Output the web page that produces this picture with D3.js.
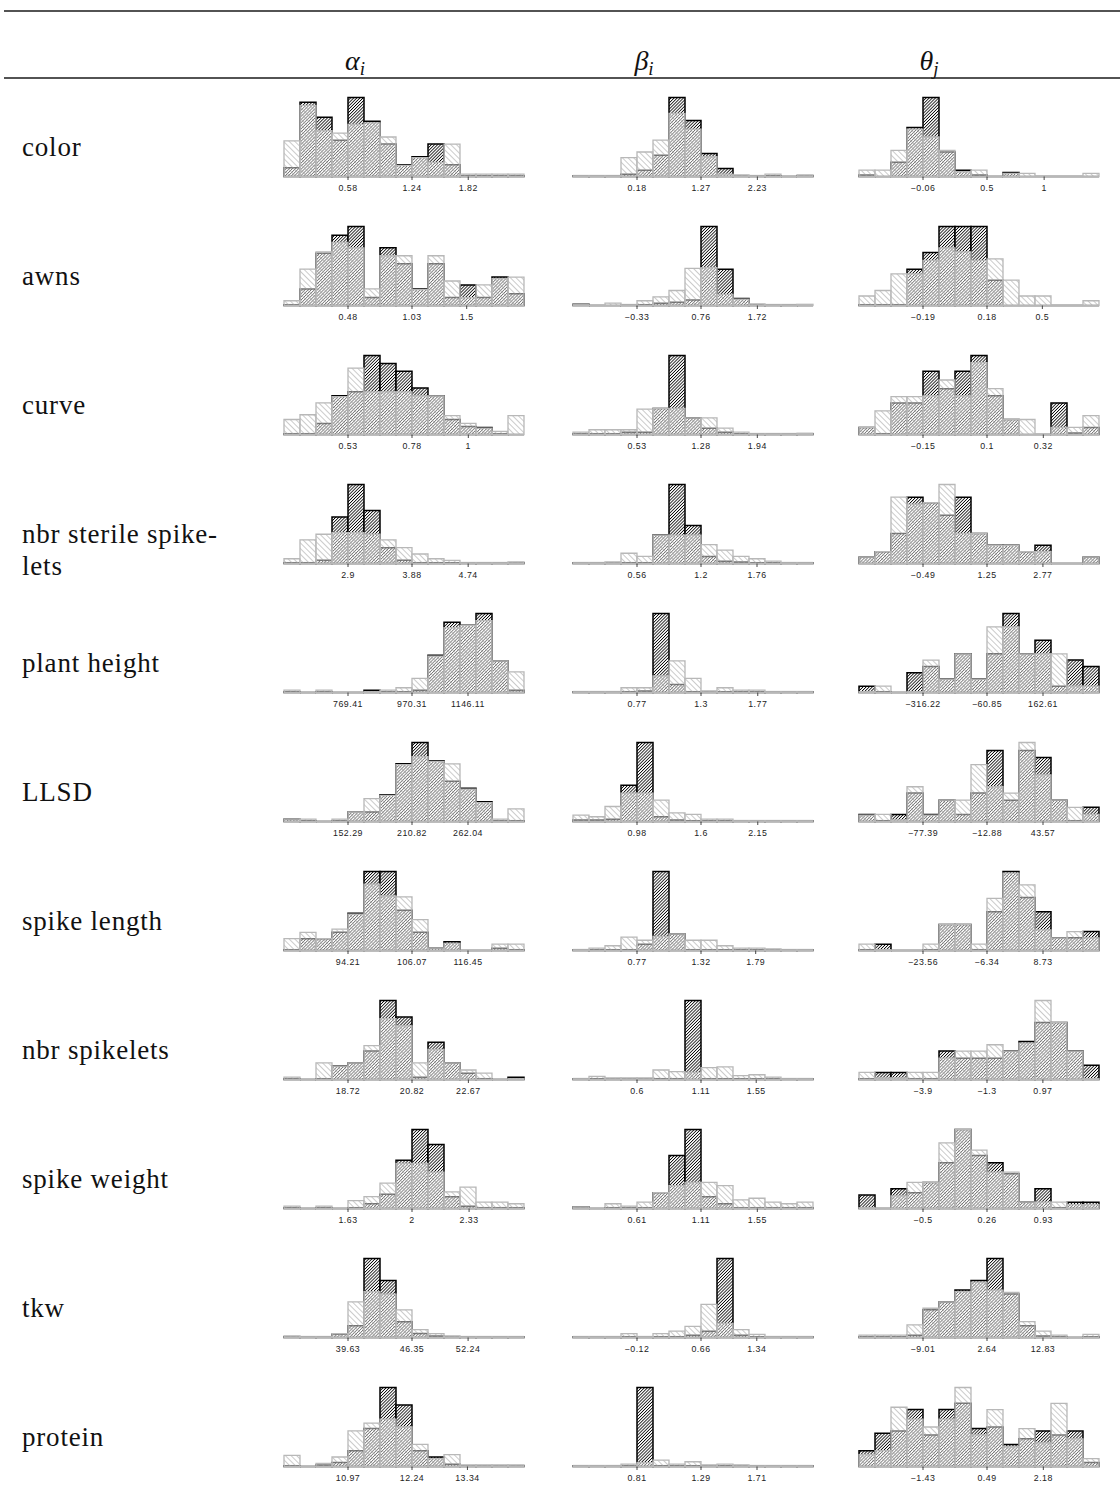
<!DOCTYPE html>
<html>
<head>
<meta charset="utf-8">
<script src="https://cdn.jsdelivr.net/npm/d3@7"></script>
<style>
  html, body { margin: 0; padding: 0; background: #fff; }
  svg { display: block; }
</style>
</head>
<body>
<svg id="chart" width="1120" height="1493"></svg>
<script>
// Row labels of the table
const traits = ["color", "awns", "curve", "nbr sterile spikelets", "plant height", "LLSD",
  "spike length", "nbr spikelets", "spike weight", "tkw", "protein"];

// Column headers: parameter symbol and its index
const paramSymbols = ["α", "β", "θ"];
const paramIndex = ["i", "i", "j"];

// Tick labels per row: [alpha ticks, beta ticks, theta ticks]
const ticksColor = [[0.58, 1.24, 1.82], [0.18, 1.27, 2.23], [-0.06, 0.5, 1]];
const ticksAwns = [[0.48, 1.03, 1.5], [-0.33, 0.76, 1.72], [-0.19, 0.18, 0.5]];
const ticksCurve = [[0.53, 0.78, 1], [0.53, 1.28, 1.94], [-0.15, 0.1, 0.32]];
const ticksSterile = [[2.9, 3.88, 4.74], [0.56, 1.2, 1.76], [-0.49, 1.25, 2.77]];
const ticksHeight = [[769.41, 970.31, 1146.11], [0.77, 1.3, 1.77], [-316.22, -60.85, 162.61]];
const ticksLLSD = [[152.29, 210.82, 262.04], [0.98, 1.6, 2.15], [-77.39, -12.88, 43.57]];
const ticksSpikeLen = [[94.21, 106.07, 116.45], [0.77, 1.32, 1.79], [-23.56, -6.34, 8.73]];
const ticksSpikelets = [[18.72, 20.82, 22.67], [0.6, 1.11, 1.55], [-3.9, -1.3, 0.97]];
const ticksSpikeW = [[1.63, 2, 2.33], [0.61, 1.11, 1.55], [-0.5, 0.26, 0.93]];
const ticksTkw = [[39.63, 46.35, 52.24], [-0.12, 0.66, 1.34], [-9.01, 2.64, 12.83]];
const ticksProtein = [[10.97, 12.24, 13.34], [0.81, 1.29, 1.71], [-1.43, 0.49, 2.18]];

// Bin frequencies (15 bins per histogram), light series and dark series, per column
const colorLight = [[45, 90, 58, 55, 66, 68, 50, 14, 24, 18, 41, 3, 3, 3, 3],
  [1, 1, 1, 24, 31, 46, 80, 60, 25, 3, 2, 1, 3, 0, 2],
  [8, 8, 33, 60, 50, 33, 6, 8, 0, 4, 4, 0, 0, 0, 4]];
const colorDark = [[11, 94, 75, 46, 100, 70, 41, 15, 25, 41, 15, 1, 1, 1, 1],
  [1, 1, 1, 3, 8, 27, 100, 71, 29, 10, 1, 1, 1, 0, 1],
  [2, 0, 18, 62, 100, 31, 8, 2, 0, 5, 0, 0, 0, 0, 0]];

const awnsLight = [[6, 46, 68, 80, 73, 21, 63, 63, 20, 63, 31, 10, 26, 34, 36],
  [1, 0, 3, 1, 6, 11, 19, 47, 48, 14, 8, 2, 1, 1, 1.5],
  [12, 19, 40, 40, 57, 73, 68, 57, 59, 32, 12, 12, 0, 0, 6]];
const awnsDark = [[1, 21, 66, 89, 100, 10, 73, 53, 21, 53, 10, 26, 10, 36, 15],
  [1.5, 0, 0, 1, 1, 3, 4, 7, 100, 46, 9, 1, 1, 1, 0],
  [1, 1, 1, 46, 67, 100, 100, 100, 32, 0, 0, 0, 0, 0, 0]];

const curveLight = [[19, 25, 40, 48, 84, 54, 54, 54, 49, 49, 24, 14, 8, 4, 24],
  [3, 6, 6, 6, 32, 33, 33, 21, 21, 8, 3, 1, 1, 1, 1.5],
  [9, 30, 48, 48, 49, 69, 49, 91, 58, 19, 19, 0, 9, 9, 24]];
const curveDark = [[1, 1, 14, 49, 54, 100, 90, 80, 59, 49, 19, 10, 9, 1, 0],
  [1, 1, 1, 3, 3, 33, 100, 21, 8, 3, 1, 1, 1, 1, 1],
  [9, 1, 40, 40, 80, 58, 80, 100, 49, 19, 0, 0, 40, 2, 9]];

const sterileLight = [[6, 30, 37, 39, 39, 37, 30, 20, 12, 6, 4, 1, 1, 1, 2],
  [1, 1, 2, 13, 9, 36, 36, 36, 24, 17, 9, 6, 3, 1, 1],
  [8, 15, 84, 75, 77, 100, 38, 38, 23, 23, 15, 15, 0, 0, 8]];
const sterileDark = [[1, 1, 4, 59, 100, 67, 20, 4, 1, 1, 1, 1, 1, 1, 1],
  [1, 1, 1, 1, 1, 36, 100, 48, 9, 3, 2, 1, 1, 1, 1],
  [8, 15, 38, 84, 77, 61, 84, 38, 23, 23, 15, 23, 0, 0, 8]];

const heightLight = [[3, 0, 3, 0, 0, 1, 3, 6, 18, 46, 82, 85, 91, 40, 26],
  [1, 1, 1, 6, 6, 21, 40, 18, 2, 6, 3, 3, 1, 1, 1],
  [1, 8, 0, 1, 41, 17, 49, 17, 83, 83, 49, 49, 49, 8, 8]];
const heightDark = [[1, 0, 1, 0, 0, 3, 1, 1, 3, 47, 89, 85, 100, 40, 3],
  [1, 1, 1, 1, 2, 100, 10, 1, 1, 1, 1, 1, 1, 1, 1],
  [8, 1, 0, 25, 33, 17, 49, 17, 49, 100, 49, 66, 8, 41, 33]];

const llsdLight = [[3, 3, 0, 3, 12, 29, 33, 72, 82, 76, 73, 41, 24, 3, 16],
  [8, 6, 19, 36, 36, 27, 11, 9, 3, 3, 1, 1, 1, 1, 1],
  [8, 9, 2, 44, 8, 27, 27, 72, 44, 36, 100, 59, 27, 18, 9]];
const llsdDark = [[3, 1, 0, 1, 12, 12, 34, 73, 100, 77, 51, 42, 25, 1, 1],
  [2, 2, 3, 46, 100, 6, 2, 1, 1, 1, 1, 1, 1, 1, 1],
  [9, 1, 9, 36, 9, 27, 9, 36, 90, 27, 90, 81, 27, 1, 18]];

const spikeLenLight = [[15, 23, 15, 27, 46, 84, 69, 68, 39, 3, 9, 0, 0, 8, 8],
  [1, 3, 6, 17, 13, 18, 21, 13, 13, 6, 3, 3, 2, 1, 1],
  [8, 1, 0, 0, 8, 33, 33, 8, 66, 98, 83, 26, 16, 24, 16]];
const spikeLenDark = [[1, 15, 15, 23, 47, 100, 100, 51, 23, 3, 11, 0, 0, 3, 1],
  [1, 1, 1, 1, 8, 100, 21, 1, 1, 1, 1, 1, 1, 1, 1],
  [1, 8, 0, 0, 1, 33, 33, 1, 49, 100, 67, 49, 16, 16, 24]];

const spikeletsLight = [[3, 0, 21, 17, 21, 43, 77, 68, 21, 38, 21, 12, 8, 0, 1],
  [1, 4, 2, 2, 2, 12, 10, 9, 15, 16, 5, 6, 3, 1, 1],
  [9, 2, 2, 9, 9, 27, 36, 36, 44, 36, 46, 100, 72, 36, 1]];
const spikeletsDark = [[1, 0, 1, 17, 21, 36, 100, 79, 3, 47, 21, 8, 1, 0, 3],
  [1, 1, 1, 1, 1, 1, 1, 100, 1, 1, 1, 1, 1, 1, 1],
  [1, 9, 9, 1, 1, 36, 27, 27, 27, 36, 48, 72, 72, 36, 18]];

const spikeWLight = [[3, 0, 3, 0, 10, 15, 32, 57, 57, 46, 21, 27, 8, 8, 6],
  [2, 0, 6, 3, 8, 20, 29, 33, 33, 29, 11, 13, 8, 6, 8],
  [1, 0, 16, 33, 33, 83, 100, 74, 46, 46, 8, 8, 8, 5, 5]];
const spikeWDark = [[1, 0, 1, 0, 1, 6, 18, 61, 100, 81, 15, 3, 1, 1, 1],
  [2, 0, 1, 1, 1, 20, 67, 100, 15, 6, 1, 1, 1, 1, 1],
  [17, 0, 25, 20, 33, 58, 100, 67, 58, 44, 8, 25, 1, 8, 8]];

const tkwLight = [[2, 1, 1, 5, 45, 58, 55, 35, 10, 5, 2, 1, 1, 1, 1],
  [1, 1, 1, 5, 1, 5, 8, 14, 42, 18, 10, 4, 1, 1, 1],
  [3, 3, 3, 16, 37, 45, 58, 70, 60, 57, 20, 8, 3, 0, 4]];
const tkwDark = [[1, 1, 1, 4, 15, 100, 72, 20, 5, 2, 1, 1, 1, 1, 1],
  [1, 1, 1, 1, 1, 1, 1, 3, 8, 100, 3, 1, 1, 1, 1],
  [1, 1, 1, 3, 35, 45, 60, 72, 100, 55, 15, 2, 1, 0, 1]];

const proteinLight = [[14, 0, 4, 12, 45, 55, 60, 50, 28, 10, 15, 2, 2, 2, 2],
  [1, 1, 1, 3, 5, 8, 3, 6, 2, 3, 2, 1, 1, 1, 1],
  [15, 20, 75, 60, 50, 60, 100, 40, 72, 25, 48, 30, 80, 35, 10]];
const proteinDark = [[1, 0, 2, 5, 20, 48, 100, 78, 20, 12, 3, 1, 1, 1, 1],
  [1, 1, 1, 1, 100, 1, 1, 1, 1, 1, 1, 1, 1, 1, 1],
  [20, 42, 45, 72, 40, 72, 80, 48, 50, 28, 35, 45, 40, 45, 5]];

// Table assembled from the arrays above
const rows = [
  [ticksColor, colorLight, colorDark],
  [ticksAwns, awnsLight, awnsDark],
  [ticksCurve, curveLight, curveDark],
  [ticksSterile, sterileLight, sterileDark],
  [ticksHeight, heightLight, heightDark],
  [ticksLLSD, llsdLight, llsdDark],
  [ticksSpikeLen, spikeLenLight, spikeLenDark],
  [ticksSpikelets, spikeletsLight, spikeletsDark],
  [ticksSpikeW, spikeWLight, spikeWDark],
  [ticksTkw, tkwLight, tkwDark],
  [ticksProtein, proteinLight, proteinDark]
].map(([ticks, light, dark], r) => ({ label: traits[r], ticks, light, dark }));

// ---- layout ----
const svg = d3.select("#chart");
const W = 1120;
const colLeft = [284, 573, 859];
const panelW = 240;
const panelH = 79;
const firstBase = 176.5;
const rowStep = 129;
const nBins = 15;

// hatch patterns
const defs = svg.append("defs");
const pd = defs.append("pattern").attr("id", "hatchDark")
  .attr("patternUnits", "userSpaceOnUse").attr("width", 2.2).attr("height", 2.2)
  .attr("patternTransform", "rotate(45)");
pd.append("rect").attr("width", 2.2).attr("height", 2.2).attr("fill", "#fff");
pd.append("line").attr("x1", 0).attr("y1", 0).attr("x2", 0).attr("y2", 2.2)
  .attr("stroke", "#000").attr("stroke-width", 1.6);

const pl = defs.append("pattern").attr("id", "hatchLight")
  .attr("patternUnits", "userSpaceOnUse").attr("width", 4).attr("height", 4)
  .attr("patternTransform", "rotate(-45)");
pl.append("rect").attr("width", 4).attr("height", 4).attr("fill", "#fff").attr("fill-opacity", 0.45);
pl.append("line").attr("x1", 0).attr("y1", 0).attr("x2", 0).attr("y2", 4)
  .attr("stroke", "#a0a0a0").attr("stroke-width", 1.1);

// table rules
svg.append("line").attr("x1", 4).attr("x2", W).attr("y1", 11).attr("y2", 11)
  .attr("stroke", "#1a1a1a").attr("stroke-width", 1.6);
svg.append("line").attr("x1", 4).attr("x2", W).attr("y1", 78).attr("y2", 78)
  .attr("stroke", "#1a1a1a").attr("stroke-width", 1.4);

// header
const headX = [355, 644, 929];
paramSymbols.forEach((s, c) => {
  const t = svg.append("text").attr("x", headX[c]).attr("y", 70)
    .attr("text-anchor", "middle")
    .attr("font-family", "'Liberation Serif', 'DejaVu Serif', serif")
    .attr("font-style", "italic").attr("font-size", 28).attr("fill", "#111");
  t.append("tspan").text(s);
  t.append("tspan").attr("font-size", 19).attr("dy", 5).text(paramIndex[c]);
});

const fmt = v => String(v).replace("-", "\u2212");

function barPath(x0, x1, y0, y1) {
  const p = d3.path();
  p.moveTo(x0, y0); p.lineTo(x0, y1); p.lineTo(x1, y1); p.lineTo(x1, y0); p.closePath();
  return p.toString();
}

rows.forEach((row, r) => {
  const base = firstBase + r * rowStep;
  const labelY = base - 29;

  // row label (wrapped like the table cell)
  const lbl = svg.append("text").attr("x", 22).attr("y", labelY + 8)
    .attr("font-family", "'Liberation Serif', 'DejaVu Serif', serif")
    .attr("font-size", 27).attr("letter-spacing", 0.8).attr("fill", "#111");
  if (row.label === "nbr sterile spikelets") {
    lbl.append("tspan").attr("x", 22).text("nbr sterile spike-");
    lbl.append("tspan").attr("x", 22).attr("dy", 32).text("lets");
  } else {
    lbl.text(row.label);
  }

  for (let c = 0; c < 3; c++) {
    const ticks = row.ticks[c];
    const step = (ticks[1] - ticks[0]) / 4;
    const lo = ticks[0] - 4 * step;
    const hi = lo + nBins * step;
    const x = d3.scaleLinear().domain([lo, hi]).range([colLeft[c], colLeft[c] + panelW]);
    const light = row.light[c], dark = row.dark[c];
    const yMax = d3.max(light.concat(dark));
    const y = d3.scaleLinear().domain([0, yMax]).range([base, base - panelH]);
    const edges = d3.range(nBins + 1).map(i => lo + i * step);

    const g = svg.append("g");
    // dark series first
    g.selectAll("path.dark").data(dark).join("path").attr("class", "dark")
      .attr("d", (v, i) => barPath(x(edges[i]), x(edges[i + 1]), y(0), y(v)))
      .attr("fill", "url(#hatchDark)").attr("stroke", "#000").attr("stroke-width", 1.5);
    // light series on top
    g.selectAll("path.light").data(light).join("path").attr("class", "light")
      .attr("d", (v, i) => barPath(x(edges[i]), x(edges[i + 1]), y(0), y(v)))
      .attr("fill", "url(#hatchLight)").attr("stroke", "#b8b8b8").attr("stroke-width", 1.3);

    // axis ticks and labels
    const ax = svg.append("g");
    ax.selectAll("line").data(ticks).join("line")
      .attr("x1", d => x(d)).attr("x2", d => x(d))
      .attr("y1", base).attr("y2", base + 3.5)
      .attr("stroke", "#333").attr("stroke-width", 0.9);
    ax.selectAll("text").data(ticks).join("text")
      .attr("x", d => x(d)).attr("y", base + 14.5)
      .attr("text-anchor", "middle")
      .attr("font-family", "'Liberation Sans', Arial, sans-serif")
      .attr("font-size", 8.8).attr("letter-spacing", 0.5).attr("fill", "#222")
      .text(fmt);
  }
});
</script>
</body>
</html>
